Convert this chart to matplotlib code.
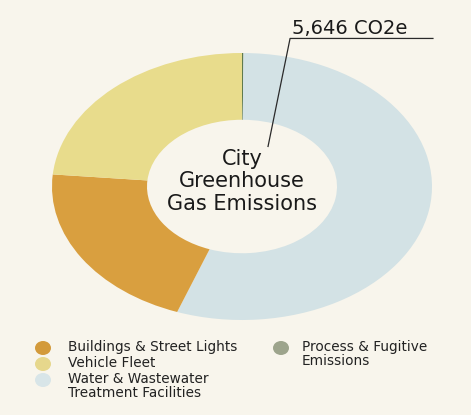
import matplotlib
matplotlib.use("Agg")
import matplotlib.pyplot as plt

categories = ["Process & Fugitive\nEmissions", "Water & Wastewater\nTreatment Facilities",
              "Buildings & Street Lights", "Vehicle Fleet"]
values = [7, 3129, 1180, 1330]
colors = ["#5f7a4e", "#d3e2e5", "#d99f3f", "#e8dc8c"]
legend_colors = ["#9da48c", "#d8e5e8", "#d39a3b", "#e6d78c"]
center_title = "City\nGreenhouse\nGas Emissions"
total_unit = "CO2e"

bg = "#f8f5ec"
fig = plt.figure(figsize=(4.71, 4.15), dpi=100, facecolor=bg)
ax = fig.add_axes([52/471, 1-320/415, 380/471, 267/415])
ax.set_facecolor(bg)
ax.pie(values, colors=colors, startangle=90, counterclock=False,
       wedgeprops=dict(width=0.5, linewidth=0))
ax.set_aspect('auto')
ax.set_xlim(-1, 1)
ax.set_ylim(-1, 1)
ax.axis('off')

font = "DejaVu Sans"
ax.text(0, 0.04, center_title, ha='center', va='center', fontsize=15,
        family=font, color="#1a1a1a", linespacing=1.15)

total = sum(values)
# leader line
ax.plot([0.137, 0.253, 1.005], [0.30, 1.109, 1.109], color="#2a2a2a", lw=0.9,
        clip_on=False)
ax.text(0.265, 1.139, f"{total:,} {total_unit}", ha='left', va='baseline',
        fontsize=14, family=font, color="#1a1a1a", clip_on=False)

# legend (manual layout)
leg = [
    (2, 43, 348, 68),
    (3, 43, 364, 68),
    (1, 43, 380, 68),
    (0, 281, 348, 302),
]
for idx, mx, my, tx in leg:
    fig.patches.append(matplotlib.patches.Ellipse(
        (mx/471, 1-my/415), 16/471, 14/415, transform=fig.transFigure,
        color=legend_colors[idx], lw=0))
    fig.text(tx/471, 1-(my-8)/415, categories[idx], ha='left', va='top',
             fontsize=9.8, family=font, color="#222222", linespacing=1.02)

fig.savefig("out.png", dpi=100, facecolor=bg)
